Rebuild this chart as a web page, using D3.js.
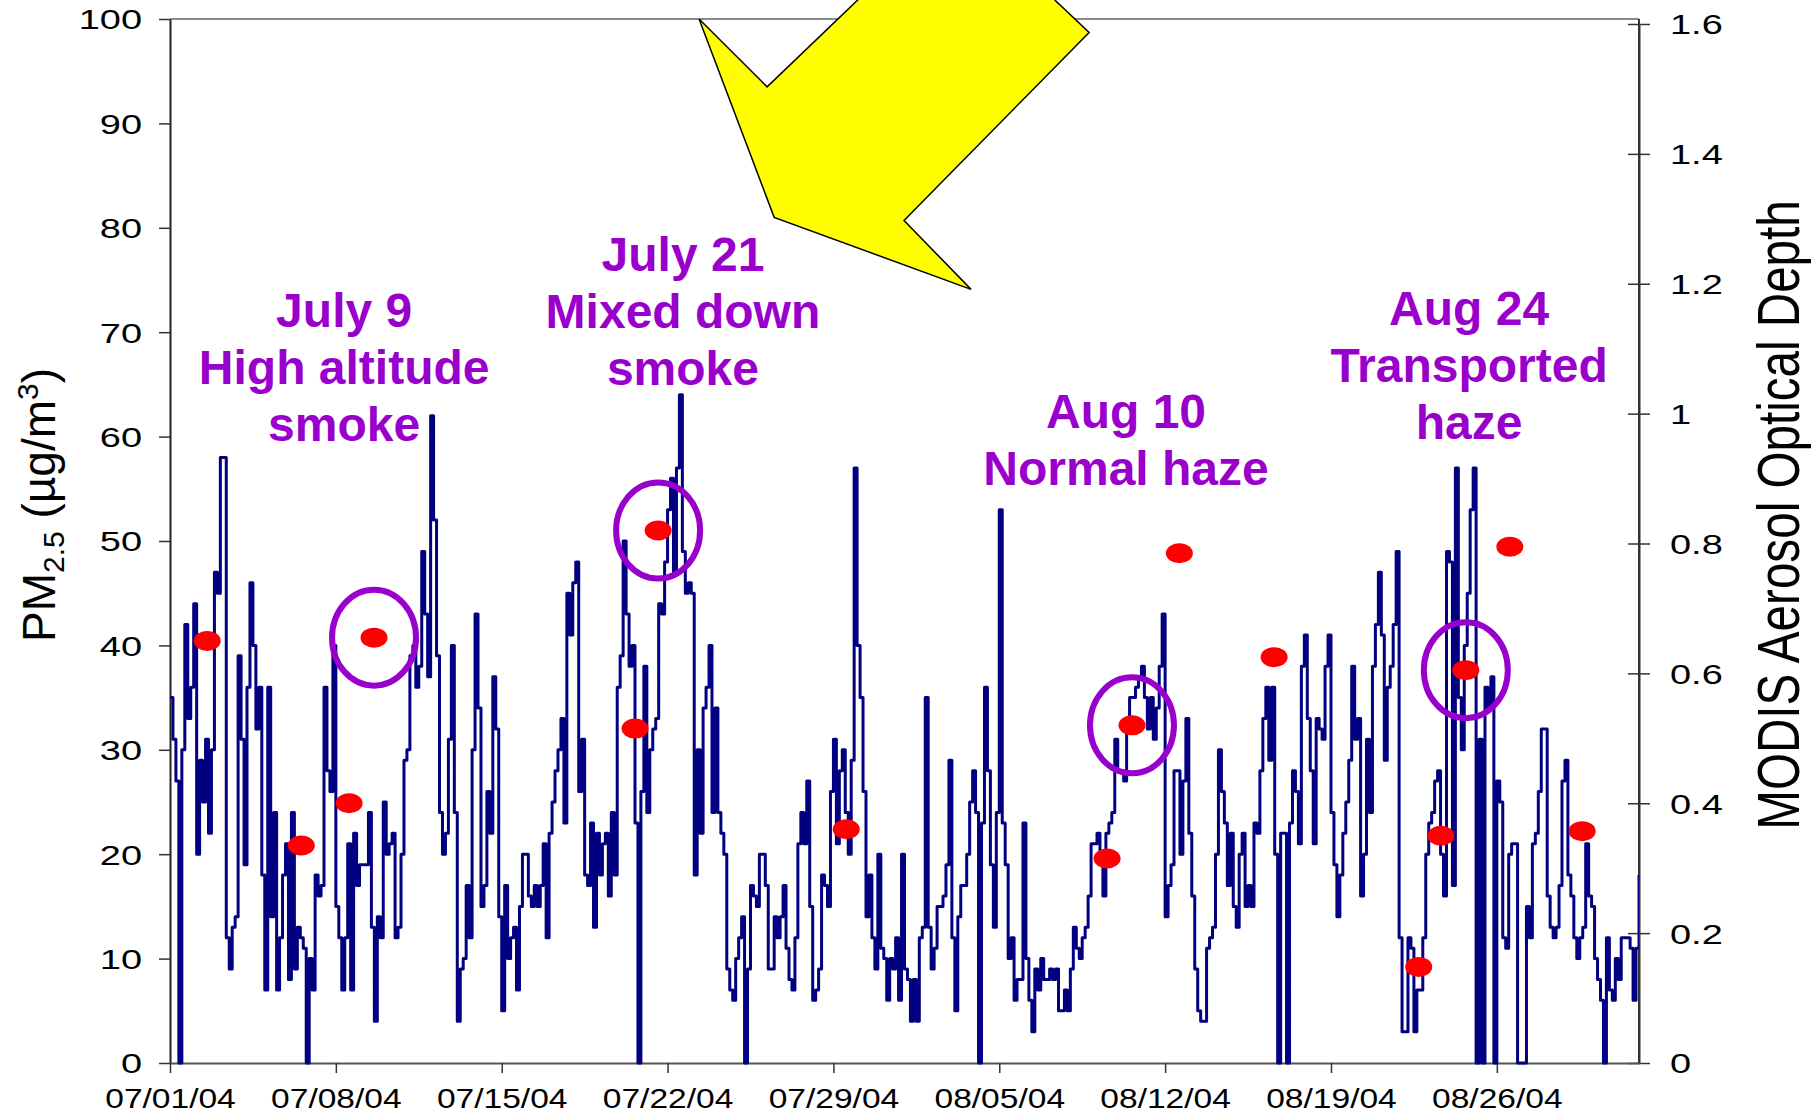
<!DOCTYPE html>
<html>
<head>
<meta charset="utf-8">
<script src="https://cdn.jsdelivr.net/npm/d3@7"></script>
<style>
  html, body { margin: 0; padding: 0; background: #fff; }
  svg { display: block; }
</style>
</head>
<body>
<svg id="chart" width="1816" height="1114"></svg>
<script>
// PM2.5 concentration (µg/m³), one reading every 3 hours starting 07/01/04 00:00.
// Split by week; each row is one day (8 readings).
const pmWeek1 = [
  35, 31, 27, 0, 30, 42, 33, 36,
  44, 20, 29, 25, 31, 22, 30, 47,
  45, 58, 58, 12, 9, 13, 14, 39,
  31, 19, 36, 46, 40, 32, 36, 18,
  7, 36, 14, 24, 7, 12, 18, 21,
  8, 24, 9, 13, 12, 11, 0, 10,
  7, 18, 16, 17, 36, 28, 26, 40
];
const pmWeek2 = [
  15, 12, 7, 12, 21, 7, 22, 17,
  19, 19, 19, 24, 13, 4, 14, 12,
  25, 20, 21, 22, 12, 13, 20, 29,
  30, 39, 40, 36, 38, 49, 43, 37,
  62, 52, 39, 24, 20, 22, 31, 40,
  24, 4, 9, 10, 17, 12, 30, 43,
  34, 15, 17, 26, 22, 37, 32, 14
];
const pmWeek3 = [
  5, 17, 10, 12, 13, 7, 15, 20,
  20, 16, 15, 17, 15, 17, 21, 12,
  22, 25, 28, 30, 33, 23, 45, 41,
  46, 48, 26, 31, 18, 17, 23, 13,
  22, 18, 21, 22, 16, 24, 18, 36,
  39, 50, 43, 38, 40, 23, 0, 26,
  38, 24, 30, 32, 33, 44, 43, 48
];
const pmWeek4 = [
  53, 56, 47, 57, 64, 49, 45, 46,
  45, 18, 30, 22, 34, 36, 40, 24,
  34, 24, 22, 20, 9, 7, 6, 10,
  12, 14, 0, 9, 17, 16, 15, 20,
  20, 17, 9, 9, 14, 12, 14, 17,
  11, 8, 7, 12, 21, 24, 21, 27,
  15, 6, 7, 9, 18, 17, 15, 26
];
const pmWeek5 = [
  31, 21, 28, 30, 24, 20, 29, 57,
  40, 35, 26, 14, 18, 12, 9, 20,
  11, 10, 6, 10, 9, 12, 6, 20,
  9, 8, 4, 8, 4, 12, 13, 35,
  13, 9, 11, 15, 15, 16, 19, 29,
  12, 5, 14, 17, 17, 20, 25, 28,
  24, 0, 23, 36, 28, 19, 13, 24
];
const pmWeek6 = [
  53, 23, 19, 10, 12, 6, 8, 8,
  23, 10, 6, 3, 9, 7, 10, 8,
  8, 9, 8, 9, 5, 5, 7, 5,
  9, 13, 11, 10, 12, 13, 16, 21,
  21, 22, 19, 16, 22, 23, 24, 31,
  28, 28, 27, 33, 35, 35, 36, 37,
  38, 35, 32, 35, 31, 34, 38, 43
];
const pmWeek7 = [
  14, 17, 19, 28, 28, 20, 27, 33,
  22, 16, 9, 5, 4, 4, 11, 12,
  13, 20, 30, 26, 23, 17, 22, 15,
  13, 20, 22, 15, 17, 15, 23, 22,
  28, 33, 36, 29, 36, 20, 0, 22,
  22, 0, 23, 28, 26, 21, 38, 41,
  33, 28, 21, 33, 32, 31, 38, 41
];
const pmWeek8 = [
  24, 19, 14, 18, 22, 25, 29, 38,
  31, 33, 16, 20, 31, 24, 38, 42,
  47, 41, 29, 36, 38, 42, 49, 12,
  3, 3, 12, 11, 3, 7, 7, 12,
  20, 23, 24, 27, 28, 20, 16, 49,
  48, 17, 57, 35, 30, 40, 45, 53,
  57, 0, 31, 0, 36, 34, 37, 0
];
const pmWeek9 = [
  27, 25, 12, 11, 20, 21, 21, 0,
  0, 0, 15, 12, 21, 22, 26, 32,
  32, 16, 13, 12, 13, 17, 27, 29,
  18, 16, 12, 10, 12, 13, 21, 16,
  15, 10, 8, 6, 0, 12, 7, 6,
  10, 8, 12, 12, 12, 11, 6, 11,
  18
];

// MODIS aerosol optical depth retrievals (overpass time, AOD)
const modisTimes = [
  "07/02/04 13:40", "07/06/04 13:00", "07/08/04 13:25", "07/09/04 14:40",
  "07/20/04 15:05", "07/21/04 14:25", "07/29/04 13:00", "08/09/04 13:10",
  "08/10/04 14:25", "08/12/04 14:25", "08/16/04 14:25", "08/22/04 16:50",
  "08/23/04 15:20", "08/24/04 16:35", "08/26/04 13:10", "08/29/04 14:25"
];
const modisAod = [
  0.65, 0.335, 0.40, 0.655,
  0.515, 0.82, 0.36, 0.315,
  0.52, 0.785, 0.625, 0.148,
  0.35, 0.605, 0.795, 0.357
];
// Retrievals circled as case studies
const circledIdx = [3, 5, 8, 13];

// Case study labels, anchored at (time, PM2.5) of their first line
const noteTimes = ["07/08/04 08:25", "07/22/04 15:35", "08/10/04 08:25", "08/24/04 19:55"];
const noteValues = [70.5, 75.9, 60.8, 70.7];
const noteLines = [
  ["July 9", "High altitude", "smoke"],
  ["July 21", "Mixed down", "smoke"],
  ["Aug 10", "Normal haze"],
  ["Aug 24", "Transported", "haze"]
];

// Block arrow outline in chart units (time, PM2.5)
const arrowTimes = ["07/23/04 07:55", "07/26/04 04:50", "07/31/04 19:25", "08/05/04 13:00",
                    "08/08/04 19:00", "07/31/04 23:30", "08/03/04 19:25", "07/26/04 12:00"];
const arrowValues = [100, 93.5, 105.7, 105.7, 98.7, 80.7, 74.1, 81.0];

// Axis ticks
const xTickLabels = ["07/01/04", "07/08/04", "07/15/04", "07/22/04", "07/29/04",
                     "08/05/04", "08/12/04", "08/19/04", "08/26/04"];
const pmTicks = [0, 10, 20, 30, 40, 50, 60, 70, 80, 90, 100];
const aodTicks = [0, 0.2, 0.4, 0.6, 0.8, 1.0, 1.2, 1.4, 1.6];

// ---------------------------------------------------------------
const parseDT = d3.timeParse("%m/%d/%y %H:%M");
const parseDay = d3.timeParse("%m/%d/%y");
const start = parseDay("07/01/04");
const end = parseDay("09/01/04");

const pmAll = [].concat(pmWeek1, pmWeek2, pmWeek3, pmWeek4, pmWeek5,
                        pmWeek6, pmWeek7, pmWeek8, pmWeek9);
const pmSeries = pmAll.map((v, i) => ({ t: d3.timeHour.offset(start, 3 * i), v }));
const modis = modisTimes.map((s, i) => ({ t: parseDT(s), v: modisAod[i] }));

const L = 170, R = 1639, T = 19, B = 1063;
const x = d3.scaleTime().domain([start, end]).range([L, R]);
const y = d3.scaleLinear().domain([0, 100]).range([B, T]);
const yR = d3.scaleLinear().domain([0, 1.6]).range([B, 24]);

const svg = d3.select("#chart");
const FONT = "'Liberation Sans', Arial, Helvetica, sans-serif";
const PURPLE = "#9900CC";
const tickFont = 27.5;
const sxLeft = 1.38, sxRight = 1.38, sxBottom = 1.22;

// Plot frame: top border and right edge
svg.append("line").attr("x1", L).attr("x2", R).attr("y1", T).attr("y2", T)
  .attr("stroke", "#8a8a8a").attr("stroke-width", 2);
svg.append("line").attr("x1", R).attr("x2", R).attr("y1", T).attr("y2", B)
  .attr("stroke", "#333").attr("stroke-width", 2);

// Left axis (PM2.5)
const gL = svg.append("g").attr("transform", `translate(${L},0)`)
  .call(d3.axisLeft(y).tickValues(pmTicks).tickSizeInner(11).tickSizeOuter(0).tickFormat(d3.format("d")));
gL.select(".domain").attr("stroke", "#222").attr("stroke-width", 2);
gL.selectAll(".tick line").attr("stroke", "#333").attr("stroke-width", 1.5);
gL.selectAll(".tick text")
  .attr("x", -28 / sxLeft).attr("dy", "0.36em")
  .attr("transform", `scale(${sxLeft},1)`)
  .attr("font-family", FONT).attr("font-size", tickFont).attr("fill", "#000");

// Right axis (AOD), ticks crossing the axis line
const gR = svg.append("g").attr("transform", `translate(${R},0)`)
  .call(d3.axisRight(yR).tickValues(aodTicks).tickSizeInner(11).tickSizeOuter(0)
    .tickFormat(d => String(+d.toFixed(1))));
gR.select(".domain").attr("stroke", "#333").attr("stroke-width", 2);
gR.selectAll(".tick line").attr("x1", -11).attr("x2", 11).attr("stroke", "#333").attr("stroke-width", 1.5);
gR.selectAll(".tick text")
  .attr("x", 31 / sxRight).attr("dy", "0.36em")
  .attr("transform", `scale(${sxRight},1)`)
  .attr("font-family", FONT).attr("font-size", tickFont).attr("fill", "#000");

// Bottom axis (dates); labels widened about their tick position
const xTicks = xTickLabels.map(parseDay);
const gB = svg.append("g").attr("transform", `translate(0,${B})`)
  .call(d3.axisBottom(x).tickValues(xTicks).tickSizeInner(10).tickSizeOuter(0)
    .tickFormat(d3.timeFormat("%m/%d/%y")));
gB.select(".domain").attr("stroke", "#555").attr("stroke-width", 2);
gB.selectAll(".tick line").attr("stroke", "#333").attr("stroke-width", 1.5);
gB.selectAll(".tick text")
  .attr("y", 45).attr("dy", 0)
  .attr("transform", `scale(${sxBottom},1)`)
  .attr("font-family", FONT).attr("font-size", tickFont).attr("fill", "#000");

// Axis titles
const leftTitle = svg.append("text")
  .attr("transform", `translate(55,505) rotate(-90)`)
  .attr("text-anchor", "middle")
  .attr("font-family", FONT).attr("font-size", 46).attr("fill", "#000");
leftTitle.append("tspan").text("PM");
leftTitle.append("tspan").attr("font-size", 30).attr("dy", 9).text("2.5");
leftTitle.append("tspan").attr("dy", -9).text(" (µg/m");
leftTitle.append("tspan").attr("font-size", 30).attr("dy", -17).text("3");
leftTitle.append("tspan").attr("dy", 17).text(")");

svg.append("text")
  .attr("transform", `translate(1799,515) scale(1.23,1) rotate(-90)`)
  .attr("text-anchor", "middle")
  .attr("font-family", FONT).attr("font-size", 47.6).attr("fill", "#000")
  .text("MODIS Aerosol Optical Depth");

// PM2.5 trace
svg.append("clipPath").attr("id", "plotClip")
  .append("rect").attr("x", L).attr("y", T).attr("width", R - L).attr("height", B - T + 2);
const line = d3.line().x(d => x(d.t)).y(d => y(d.v)).curve(d3.curveStepAfter);
svg.append("path").datum(pmSeries)
  .attr("clip-path", "url(#plotClip)")
  .attr("d", line)
  .attr("fill", "none").attr("stroke", "#000080").attr("stroke-width", 3)
  .attr("stroke-linejoin", "round");

// MODIS AOD retrievals
svg.append("g").selectAll("ellipse").data(modis).join("ellipse")
  .attr("cx", d => x(d.t)).attr("cy", d => yR(d.v))
  .attr("rx", 13.5).attr("ry", 10).attr("fill", "#FF0000");

// Case study circles
svg.append("g").selectAll("ellipse").data(circledIdx.map(i => modis[i])).join("ellipse")
  .attr("cx", d => x(d.t)).attr("cy", d => yR(d.v))
  .attr("rx", 42).attr("ry", 48)
  .attr("fill", "none").attr("stroke", PURPLE).attr("stroke-width", 6);

// Block arrow
const arrowPts = arrowTimes.map((s, i) => [x(parseDT(s)), y(arrowValues[i])]);
svg.append("polygon")
  .attr("points", arrowPts.map(p => p.join(",")).join(" "))
  .attr("fill", "#FFFF00").attr("stroke", "#000").attr("stroke-width", 1.5)
  .attr("stroke-linejoin", "miter");

// Case study labels
noteLines.forEach((lines, i) => {
  const cx = x(parseDT(noteTimes[i]));
  const cy = y(noteValues[i]);
  const t = svg.append("text")
    .attr("text-anchor", "middle")
    .attr("font-family", FONT).attr("font-weight", "bold").attr("font-size", 48)
    .attr("fill", PURPLE);
  lines.forEach((s, k) => t.append("tspan").attr("x", cx).attr("y", cy + k * 57).text(s));
});
</script>
</body>
</html>
